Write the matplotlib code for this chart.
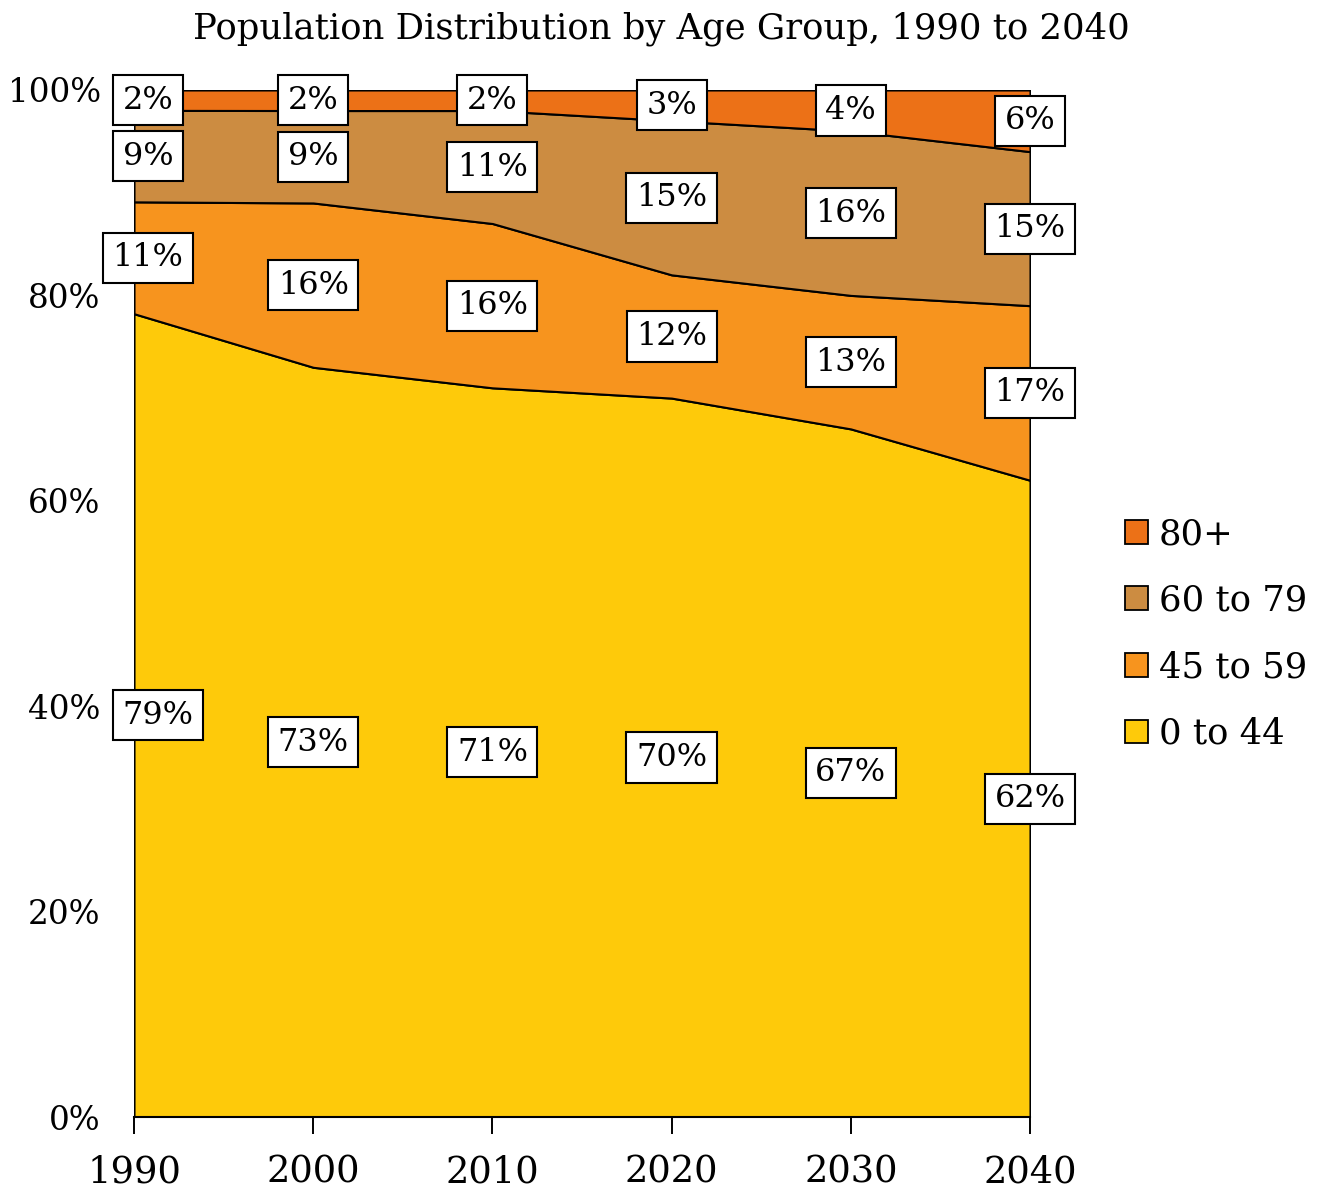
import matplotlib
matplotlib.use("Agg")
import matplotlib.pyplot as plt
import numpy as np
from matplotlib.patches import Patch

# Population shares (%) by age group
years = [1990, 2000, 2010, 2020, 2030, 2040]
age_0_44 = [79, 73, 71, 70, 67, 62]
age_45_59 = [11, 16, 16, 12, 13, 17]
age_60_79 = [9, 9, 11, 15, 16, 15]
age_80_plus = [2, 2, 2, 3, 4, 6]

series_names = ["0 to 44", "45 to 59", "60 to 79", "80+"]
colors = ["#FECA0A", "#F7941E", "#CC8C41", "#EC7117"]

plt.rcParams["font.family"] = ["DejaVu Serif"]

fig = plt.figure(figsize=(13.25, 11.92), dpi=100)
ax = fig.add_axes([134 / 1325, 1 - 1117 / 1192, (1030 - 134) / 1325, (1117 - 90) / 1192])

data = np.array([age_0_44, age_45_59, age_60_79, age_80_plus], dtype=float)
shares = data / data.sum(axis=0) * 100  # 100% stacked

ax.stackplot(years, shares, colors=colors, edgecolor="black", linewidth=1.5)

ax.set_xlim(years[0], years[-1])
ax.set_ylim(0, 100)
ax.set_xticks(years)
ax.set_xticklabels([str(y) for y in years], fontsize=26.5)
ax.set_yticks([0, 20, 40, 60, 80, 100])
ax.set_yticklabels(["0%", "20%", "40%", "60%", "80%", "100%"], fontsize=23.5)
ax.tick_params(axis="x", direction="out", length=12, width=1.4, pad=15)
ax.tick_params(axis="y", length=0, pad=24)
for side in ["top", "right", "left"]:
    ax.spines[side].set_visible(False)
ax.spines["bottom"].set_linewidth(1.5)

# Value labels centred in each band; first column nudged inside the plot
cum = np.vstack([np.zeros(len(years)), np.cumsum(shares, axis=0)])
first_col_shift = [24, 14, 14, 14]
for i in range(len(series_names)):
    for j, yr in enumerate(years):
        ymid = (cum[i, j] + cum[i + 1, j]) / 2
        dx = first_col_shift[i] if j == 0 else 0
        ax.annotate(f"{int(data[i, j])}%", xy=(yr, ymid), xytext=(dx * 0.72, 0),
                    textcoords="offset points", ha="center", va="center",
                    fontsize=23, annotation_clip=False,
                    bbox=dict(boxstyle="square,pad=0.3", fc="white", ec="black", lw=1.5))

handles = [Patch(facecolor=c, edgecolor="black", linewidth=1.3) for c in colors][::-1]
fig.legend(handles, series_names[::-1], loc="center left",
           bbox_to_anchor=(1093 / 1325, 1 - 634 / 1192), frameon=False,
           fontsize=25.5, handlelength=0.66, handleheight=0.66, handletextpad=0.3,
           labelspacing=0.92)

fig.suptitle("Population Distribution by Age Group, 1990 to 2040", fontsize=25.5,
             x=661 / 1325, y=1 - 29 / 1192, va="center")

fig.savefig("out.png", dpi=100)
